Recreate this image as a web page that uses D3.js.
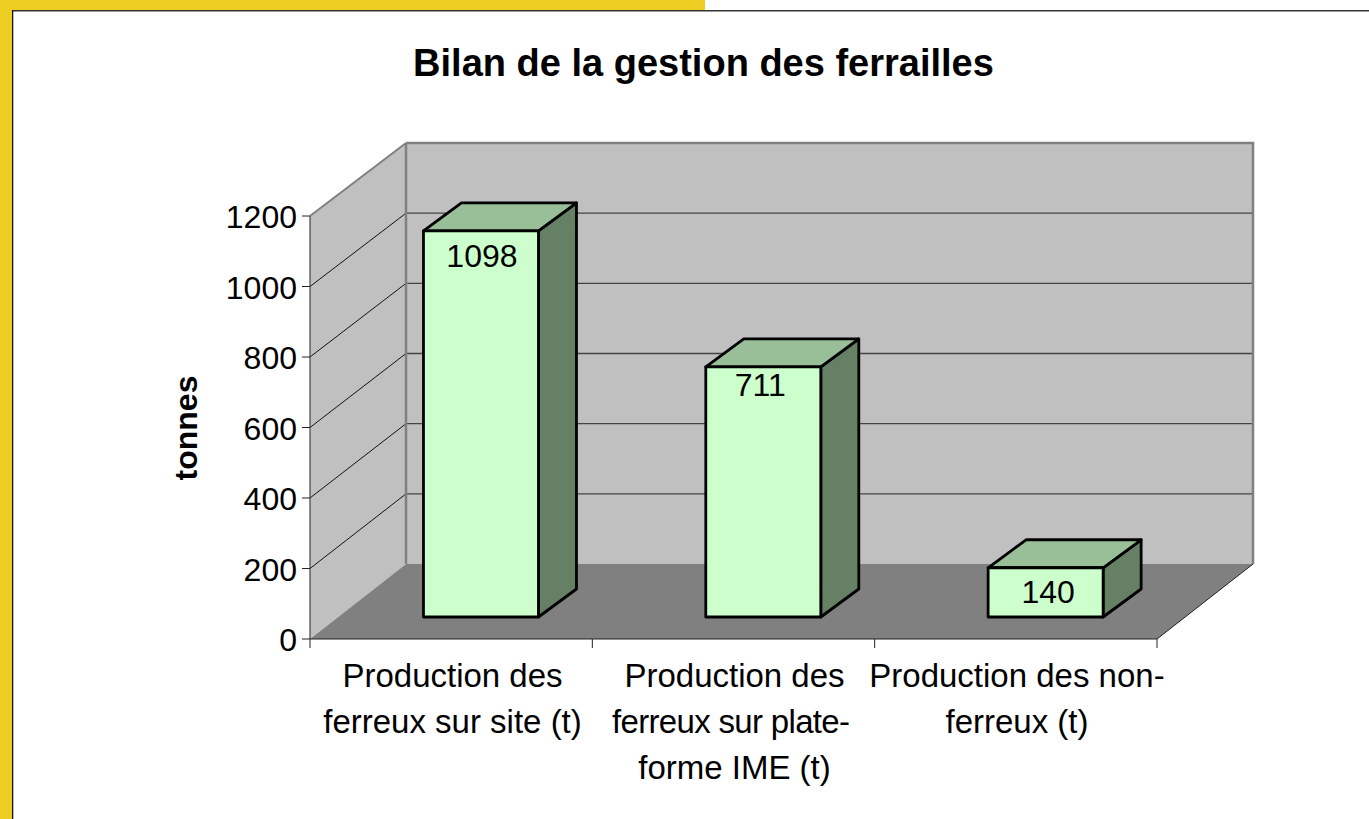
<!DOCTYPE html>
<html><head><meta charset="utf-8">
<script src="https://cdnjs.cloudflare.com/ajax/libs/d3/7.8.5/d3.min.js"></script>
<style>html,body{margin:0;padding:0;background:#fff;overflow:hidden}svg{display:block}text{font-family:"Liberation Sans",Arial,sans-serif;fill:#000}</style>
</head><body><svg id="c" width="1369" height="819"></svg>
<script>
const titleText = "Bilan de la gestion des ferrailles";
const yTitle = "tonnes";
const categories = ["Production des ferreux sur site (t)", "Production des ferreux sur plate-forme IME (t)", "Production des non-ferreux (t)"];
const categoryLines = [["Production des","ferreux sur site (t)"],["Production des","ferreux sur plate-","forme IME (t)"],["Production des non-","ferreux (t)"]];
const values = [1098, 711, 140];
const yTicks = [0,200,400,600,800,1000,1200];

const svg = d3.select("#c");
const W = 1369, H = 819;
const front = {x0:310, x1:1157, y0:639, y1:216};
const depthX = 96;
const barDepth = {dx:38, dy:-28};
const barShiftX = 29.8;
const barWidth = 115;
const labelNudge = [{dx:1,dy:36},{dx:-3,dy:29},{dx:2.5,dy:35}];

const x = d3.scaleBand().domain(categories).range([front.x0, front.x1]);
const y = d3.scaleLinear().domain([0,1200]).range([front.y0, front.y1]);
const yBack = d3.scaleLinear().domain([0,1200]).range([564, 143]);
const yBar = d3.scaleLinear().domain([0,1200]).range([617, 195]);
const pts = a => a.map(p=>p.join(",")).join(" ");

// frame
svg.append("rect").attr("x",0).attr("y",0).attr("width",705).attr("height",10).attr("fill","#EDCD22");
svg.append("rect").attr("x",0).attr("y",0).attr("width",12).attr("height",H).attr("fill","#EDCD22");
svg.append("rect").attr("x",12).attr("y",10).attr("width",W-12).attr("height",1.5).attr("fill","#333");
svg.append("rect").attr("x",12).attr("y",10).attr("width",1.3).attr("height",H-10).attr("fill","#111");

// walls
const yMax = y(1200), y0 = y(0), bTop = yBack(1200), bBot = yBack(0);
const bx0 = front.x0+depthX, bx1 = front.x1+depthX;
svg.append("polygon").attr("points",pts([[bx0,bTop],[bx1,bTop],[bx1,bBot],[bx0,bBot]])).attr("fill","#c0c0c0");
svg.append("polygon").attr("points",pts([[front.x0,yMax],[bx0,bTop],[bx0,bBot],[front.x0,y0]])).attr("fill","#c0c0c0");
svg.append("polygon").attr("points",pts([[front.x0,y0],[bx0,bBot],[bx1,bBot],[front.x1,y0]])).attr("fill","#808080");

// gridlines
yTicks.filter(v=>v>0).forEach(v=>{
  if(v<1200) svg.append("line").attr("x1",bx0).attr("x2",bx1).attr("y1",yBack(v)).attr("y2",yBack(v)).attr("stroke","#444").attr("stroke-width",1.4);
  svg.append("line").attr("x1",front.x0).attr("x2",bx0).attr("y1",y(v)).attr("y2",yBack(v))
    .attr("stroke",v===1200?"#808080":"#111").attr("stroke-width",v===1200?2:1);
});
// wall outlines
svg.append("polyline").attr("points",pts([[bx0,bTop],[bx1,bTop],[bx1,bBot]])).attr("fill","none").attr("stroke","#808080").attr("stroke-width",2.5);
svg.append("line").attr("x1",bx0).attr("x2",bx0).attr("y1",bTop).attr("y2",bBot).attr("stroke","#808080").attr("stroke-width",2.5);
svg.append("line").attr("x1",front.x1).attr("x2",bx1).attr("y1",y0).attr("y2",bBot).attr("stroke","#222").attr("stroke-width",1);

// axes
svg.append("line").attr("x1",front.x0).attr("x2",front.x0).attr("y1",yMax).attr("y2",y0).attr("stroke","#444").attr("stroke-width",1.2);
svg.append("line").attr("x1",front.x0).attr("x2",front.x1).attr("y1",y0).attr("y2",y0).attr("stroke","#222").attr("stroke-width",1.2);
yTicks.forEach(v=>{
  svg.append("line").attr("x1",front.x0-8).attr("x2",front.x0).attr("y1",y(v)).attr("y2",y(v)).attr("stroke","#222");
  svg.append("text").attr("x",297).attr("y",y(v)+12).attr("text-anchor","end").attr("font-size",32).text(v);
});
categories.forEach(c=>{
  svg.append("line").attr("x1",x(c)).attr("x2",x(c)).attr("y1",y0).attr("y2",y0+9).attr("stroke","#222");
});
svg.append("line").attr("x1",front.x1).attr("x2",front.x1).attr("y1",y0).attr("y2",y0+9).attr("stroke","#222");

// bars
const base = yBar(0);
const fx = c => x(c)+x.bandwidth()/2+barShiftX-barWidth/2;
const gBars = svg.append("g").attr("stroke","#000").attr("stroke-width",2.8).attr("stroke-linejoin","round");
categories.forEach((c,i)=>{
  const l=fx(c), r=l+barWidth, t=yBar(values[i]), d=barDepth;
  gBars.append("polygon").attr("points",pts([[r,t],[r+d.dx,t+d.dy],[r+d.dx,base+d.dy],[r,base]])).attr("fill","#668066");
  gBars.append("polygon").attr("points",pts([[l,t],[l+d.dx,t+d.dy],[r+d.dx,t+d.dy],[r,t]])).attr("fill","#99BF99");
  gBars.append("rect").attr("x",l).attr("y",t).attr("width",barWidth).attr("height",base-t).attr("fill","#CCFFCC");
  svg.append("text").attr("x",l+barWidth/2+labelNudge[i].dx).attr("y",t+labelNudge[i].dy).attr("text-anchor","middle").attr("font-size",32).text(values[i]);
});

// category labels
const labelCx = [452.5,734.5,1017];
categoryLines.forEach((lines,i)=>{
  lines.forEach((s,j)=>{
    const t = svg.append("text").attr("x",labelCx[i]).attr("y",687+j*46).attr("text-anchor","middle").attr("font-size",33).text(s);
    if(s==="ferreux sur plate-") t.attr("x",731).attr("textLength",238).attr("lengthAdjust","spacing");
  });
});

// titles
svg.append("text").attr("x",703.5).attr("y",76).attr("text-anchor","middle").attr("font-size",38).attr("font-weight","bold").text(titleText);
svg.append("text").attr("transform","translate(197,428) rotate(-90)").attr("text-anchor","middle").attr("font-size",32).attr("font-weight","bold").text(yTitle);
</script></body></html>
